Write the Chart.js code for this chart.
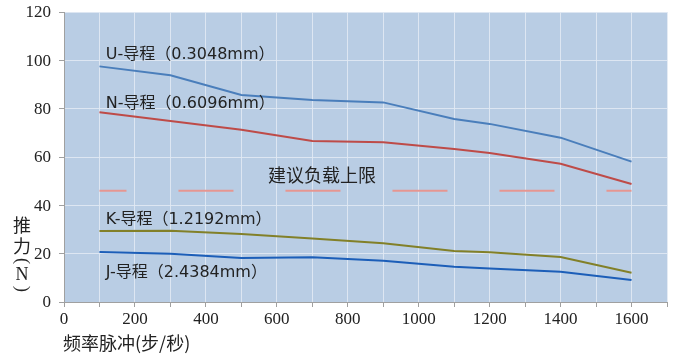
<!DOCTYPE html>
<html>
<head>
<meta charset="utf-8">
<script src="https://cdn.jsdelivr.net/npm/chart.js@4/dist/chart.umd.min.js"></script>
<style>
  body { margin: 0; background: #fff; }
  #wrap { width: 700px; height: 363px; }
</style>
</head>
<body>
<div id="wrap"><canvas id="chart" width="700" height="363"></canvas></div>
<script>
// data
const freqs = [100, 300, 500, 700, 900, 1100, 1200, 1400, 1600];
const uForce = [97.5, 93.8, 85.7, 83.6, 82.6, 75.7, 73.7, 68.0, 58.1];
const nForce = [78.5, 74.9, 71.3, 66.6, 66.1, 63.3, 61.7, 57.2, 48.8];
const kForce = [29.4, 29.5, 28.1, 26.3, 24.3, 21.1, 20.6, 18.6, 12.1];
const jForce = [20.7, 20.0, 18.2, 18.5, 17.1, 14.6, 13.9, 12.5, 9.1];
const limitX = [100, 1600];
const limitY = [46, 46];

const seriesLabels = ['U-导程（0.3048mm）', 'N-导程（0.6096mm）', 'K-导程（1.2192mm）', 'J-导程（2.4384mm）'];
const limitLabel = '建议负载上限';
const xTitle = '频率脉冲(步/秒)';
const yTitleChars = ['推', '力', '(', 'N', ')'];

function toPoints(xs, ys) {
  return xs.map((x, i) => ({ x: x, y: ys[i] }));
}

const cjkFont = '"Noto Sans CJK SC", "Noto Sans", sans-serif';
const labelFont = '"DejaVu Sans", "Noto Sans CJK SC", sans-serif';
const serifFont = 'Liberation Serif, serif';

// plot background, tick labels, annotations and axis titles
const extras = {
  id: 'extras',
  beforeDraw(chart) {
    const a = chart.chartArea;
    const ctx = chart.ctx;
    ctx.save();
    ctx.fillStyle = 'rgb(185,205,228)';
    ctx.fillRect(a.left, a.top, a.right - a.left, a.bottom - a.top);
    ctx.restore();
  },
  afterDraw(chart) {
    const ctx = chart.ctx;
    const xs = chart.scales.x;
    const ys = chart.scales.y;
    ctx.save();
    ctx.fillStyle = '#222';
    ctx.textBaseline = 'middle';

    // tick labels in serif, taken from the scales' own ticks
    ctx.font = '17px ' + serifFont;
    ctx.textAlign = 'center';
    xs.ticks.forEach((t) => {
      if (t.value % 200 === 0 && t.value <= 1600) {
        ctx.fillText(String(t.value), xs.getPixelForValue(t.value), xs.top + 18);
      }
    });
    ctx.textAlign = 'right';
    ys.ticks.forEach((t) => {
      ctx.fillText(String(t.value), ys.right - 13, ys.getPixelForValue(t.value) + 1);
    });

    ctx.textAlign = 'left';
    ctx.font = '16px ' + labelFont;
    const labelY = [102.4, 81.9, 33.9, 11.9];
    seriesLabels.forEach((t, i) => {
      ctx.fillText(t, xs.getPixelForValue(118), ys.getPixelForValue(labelY[i]));
    });
    ctx.font = '18px ' + cjkFont;
    ctx.fillText(limitLabel, xs.getPixelForValue(575), ys.getPixelForValue(52.5));
    ctx.fillText(xTitle, xs.left - 1, 343);
    ctx.textAlign = 'center';
    const charY = [225, 246, 261, 275, 289];
    yTitleChars.forEach((c, i) => {
      if (c === '(' || c === ')') {
        ctx.save();
        ctx.translate(22, charY[i]);
        ctx.rotate(Math.PI / 2);
        ctx.font = '18px ' + serifFont;
        ctx.fillText(c, 0, 0);
        ctx.restore();
      } else {
        ctx.font = (c === 'N' ? '18px ' + serifFont : '18px ' + cjkFont);
        ctx.fillText(c, 22, charY[i]);
      }
    });
    ctx.restore();
  }
};

const lineStyle = { pointRadius: 0, borderWidth: 2, tension: 0, fill: false };

new Chart(document.getElementById('chart'), {
  type: 'line',
  data: {
    datasets: [
      { ...lineStyle, label: seriesLabels[0], data: toPoints(freqs, uForce), borderColor: 'rgb(74,126,187)' },
      { ...lineStyle, label: seriesLabels[1], data: toPoints(freqs, nForce), borderColor: 'rgb(190,75,72)' },
      { ...lineStyle, label: seriesLabels[2], data: toPoints(freqs, kForce), borderColor: 'rgb(130,128,40)' },
      { ...lineStyle, label: seriesLabels[3], data: toPoints(freqs, jForce), borderColor: 'rgb(28,94,184)' },
      { ...lineStyle, label: limitLabel, data: toPoints(limitX, limitY), borderColor: 'rgb(230,150,145)',
        borderDash: [55, 52], borderDashOffset: 28, borderCapStyle: 'butt' }
    ]
  },
  options: {
    responsive: false,
    animation: false,
    layout: { padding: { top: 12, right: 33, left: 0, bottom: 0 } },
    plugins: { legend: { display: false }, tooltip: { enabled: false } },
    scales: {
      x: {
        type: 'linear',
        min: 0,
        max: 1700,
        afterFit(axis) { axis.height = 61; axis.paddingLeft = 0; axis.paddingRight = 0; },
        border: { color: 'rgb(160,160,160)', width: 1 },
        grid: { color: 'rgba(225,233,243,0.9)', tickColor: 'rgb(160,160,160)', tickLength: 5, lineWidth: 1 },
        ticks: {
          stepSize: 100,
          autoSkip: false,
          maxRotation: 0,
          color: 'rgba(0,0,0,0)'
        }
      },
      y: {
        min: 0,
        max: 120,
        afterFit(axis) { axis.width = 64; axis.paddingTop = 0; axis.paddingBottom = 0; },
        border: { color: 'rgb(160,160,160)', width: 1 },
        grid: { color: 'rgba(225,233,243,0.9)', tickColor: 'rgb(160,160,160)', tickLength: 5, lineWidth: 1 },
        ticks: {
          stepSize: 20,
          color: 'rgba(0,0,0,0)'
        }
      }
    }
  },
  plugins: [extras]
});
</script>
</body>
</html>
